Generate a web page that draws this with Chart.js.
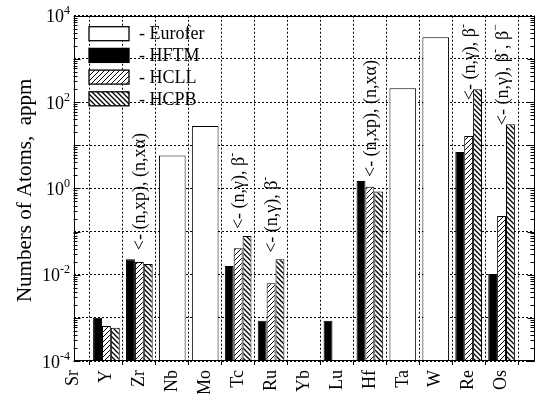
<!DOCTYPE html>
<html>
<head>
<meta charset="utf-8">
<script src="https://cdn.jsdelivr.net/npm/chart.js@4.4.0/dist/chart.umd.min.js"></script>
<style>
  html, body { margin: 0; padding: 0; background: #fff; }
  #wrap { width: 538px; height: 394px; }
</style>
</head>
<body>
<div id="wrap"><canvas id="chart"></canvas></div>
<script>
// elements along the x axis (last empty slot just pads the right edge)
const categories = ['Sr', 'Y', 'Zr', 'Nb', 'Mo', 'Tc', 'Ru', 'Yb', 'Lu', 'Hf', 'Ta', 'W', 'Re', 'Os', ''];
const seriesNames = ['Eurofer', 'HFTM', 'HCLL', 'HCPB'];

// numbers of atoms, appm (1e-4 = sits on the axis floor but keeps its slot)
const eurofer = [null, null, null, 5.8, 28, null, null, null, null, null, 208, 3160, null, null];
const hftm = [null, 1.0e-3, 0.0227, null, null, 0.0159, 8.6e-4, null, 8.6e-4, 1.48, null, null, 6.95, 0.0103];
const hcll = [null, 6.5e-4, 0.0196, null, null, 0.0408, 6.3e-3, null, 1e-4, 1.09, null, null, 16.3, 0.229];
const hcpb = [null, 5.9e-4, 0.0177, null, null, 0.0787, 0.0227, null, 1e-4, 0.84, null, null, 197, 30.5];

const yTickExponents = [-4, -2, 0, 2, 4];

// reaction notes written upward from a value above the bars
const notes = [
  { cat: 'Zr', at: 0.037, parts: [['<- (n,xp), (n,x\u03b1)']] },
  { cat: 'Tc', at: 0.114, parts: [['<- (n,\u03b3), \u03b2'], ['-', 1]] },
  { cat: 'Ru', at: 0.032, parts: [['<- (n,\u03b3), \u03b2'], ['-', 1]] },
  { cat: 'Hf', at: 1.83, parts: [['<- (n,xp), (n,x\u03b1)']] },
  { cat: 'Re', at: 110, parts: [['<- (n,\u03b3), \u03b2'], ['-', 1]] },
  { cat: 'Os', at: 29, parts: [['<- (n,\u03b3), \u03b2'], ['-', 1], [', \u03b2'], ['\u2212', 1]] }
];

const FONT = '"Liberation Serif", "Times New Roman", serif';

function hatch(dir, lw) {
  const s = 5;
  const c = document.createElement('canvas');
  c.width = s; c.height = s;
  const g = c.getContext('2d');
  g.fillStyle = '#fff';
  g.fillRect(0, 0, s, s);
  g.strokeStyle = '#000';
  g.lineWidth = lw;
  g.beginPath();
  if (dir > 0) {
    g.moveTo(0, s); g.lineTo(s, 0);
    g.moveTo(-1, 1); g.lineTo(1, -1);
    g.moveTo(s - 1, s + 1); g.lineTo(s + 1, s - 1);
  } else {
    g.moveTo(0, 0); g.lineTo(s, s);
    g.moveTo(-1, s - 1); g.lineTo(1, s + 1);
    g.moveTo(s - 1, -1); g.lineTo(s + 1, 1);
  }
  g.stroke();
  return g.createPattern(c, 'repeat');
}

const fills = ['#fff', '#000', hatch(1, 1), hatch(-1, 1.3)];
const isDecade = v => v > 0 && Math.abs(Math.log10(v) - Math.round(Math.log10(v))) < 1e-9;

function drawRich(ctx, parts, x, y, size) {
  ctx.save();
  ctx.translate(x, y);
  ctx.rotate(-Math.PI / 2);
  ctx.textBaseline = 'alphabetic';
  ctx.textAlign = 'left';
  let cx = 0;
  for (const [t, sup] of parts) {
    ctx.font = (sup ? 12 : size) + 'px ' + FONT;
    ctx.fillText(t, cx, sup ? -size * 0.45 : 0);
    cx += ctx.measureText(t).width;
  }
  ctx.restore();
}

const decorations = {
  id: 'decorations',
  afterDatasetsDraw(chart) {
    const ctx = chart.ctx;
    const a = chart.chartArea;
    const x = chart.scales.x;
    const y = chart.scales.y;
    ctx.save();
    ctx.fillStyle = '#000';
    ctx.strokeStyle = '#000';

    // frame
    ctx.lineWidth = 1;
    ctx.strokeRect(Math.round(a.left) + 0.5, Math.round(a.top) + 0.5,
      Math.round(a.right - a.left) - 1, Math.round(a.bottom - a.top) - 1);

    // inward ticks on left and right
    ctx.beginPath();
    for (let e = -4; e <= 4; e++) {
      for (let k = 1; k <= 9; k++) {
        const v = k * Math.pow(10, e);
        if (v > 1e4 * 1.0001) continue;
        const py = Math.round(y.getPixelForValue(v)) + 0.5;
        const len = k === 1 ? 7 : 4;
        ctx.moveTo(a.left, py); ctx.lineTo(a.left + len, py);
        ctx.moveTo(a.right, py); ctx.lineTo(a.right - len, py);
      }
    }
    ctx.stroke();

    // y tick labels 10^n
    for (const e of yTickExponents) {
      const py = y.getPixelForValue(Math.pow(10, e));
      const ex = String(e).replace('-', '-');
      ctx.font = '12px ' + FONT;
      const we = ctx.measureText(ex).width;
      ctx.font = '18px ' + FONT;
      const wb = ctx.measureText('10').width;
      const right = 70;
      ctx.textAlign = 'left';
      ctx.textBaseline = 'alphabetic';
      ctx.fillText('10', right - we - wb, py + 6.5);
      ctx.font = '12px ' + FONT;
      ctx.fillText(ex, right - we, py - 1.5);
    }

    // y axis title
    ctx.save();
    ctx.translate(31, (a.top + a.bottom) / 2 + 2);
    ctx.rotate(-Math.PI / 2);
    ctx.font = '21px ' + FONT;
    ctx.textAlign = 'center';
    ctx.textBaseline = 'alphabetic';
    ctx.fillText('Numbers of Atoms,  appm', 0, 0);
    ctx.restore();

    // legend
    for (let i = 0; i < seriesNames.length; i++) {
      const bx = a.left + 15.5;
      const by = a.top + 11 + i * 21.7;
      ctx.fillStyle = fills[i];
      ctx.fillRect(bx, by, 40, 14);
      ctx.lineWidth = 1.3;
      ctx.strokeStyle = '#000';
      ctx.strokeRect(bx, by, 40, 14);
      ctx.fillStyle = '#000';
      ctx.font = '18px ' + FONT;
      ctx.textAlign = 'left';
      ctx.textBaseline = 'middle';
      ctx.fillText('- ' + seriesNames[i], bx + 50, by + 8);
    }

    // reaction notes
    for (const n of notes) {
      const px = x.getPixelForValue(categories.indexOf(n.cat));
      const py = y.getPixelForValue(n.at);
      drawRich(ctx, n.parts, px + 6, py, 18);
    }
    ctx.restore();
  }
};

const datasets = [eurofer, hftm, hcll, hcpb].map((d, i) => ({
  label: seriesNames[i],
  data: d,
  backgroundColor: fills[i],
  borderColor: '#000',
  borderWidth: c => (c.raw == null || c.raw <= 1e-4) ? 0 : 1,
  categoryPercentage: 0.81,
  barPercentage: 1,
  skipNull: true
}));

new Chart(document.getElementById('chart'), {
  type: 'bar',
  data: { labels: categories, datasets },
  options: {
    responsive: true,
    maintainAspectRatio: false,
    animation: false,
    events: [],
    layout: { padding: { top: 15.7, right: 3.5, bottom: 0, left: 0 } },
    plugins: { legend: { display: false }, tooltip: { enabled: false } },
    scales: {
      x: {
        type: 'category',
        offset: false,
        grid: { color: '#000', lineWidth: 1, offset: true, drawTicks: true, tickLength: 4 },
        border: { display: false, dash: [2, 2] },
        ticks: {
          autoSkip: false, minRotation: 90, maxRotation: 90, padding: 5,
          color: '#000', font: { family: FONT, size: 18 }
        },
        afterFit: s => { s.height = 33; s.paddingLeft = 0; s.paddingRight = 0; }
      },
      y: {
        type: 'logarithmic',
        min: 1e-4,
        max: 1e4,
        grid: {
          color: c => (c.tick && isDecade(c.tick.value)) ? '#000' : 'rgba(0,0,0,0)',
          lineWidth: 1, drawTicks: false
        },
        border: { display: false, dash: [2, 2] },
        ticks: { display: false },
        afterFit: s => { s.width = 73.5; s.paddingTop = 0; s.paddingBottom = 0; }
      }
    }
  },
  plugins: [decorations]
});
</script>
</body>
</html>
